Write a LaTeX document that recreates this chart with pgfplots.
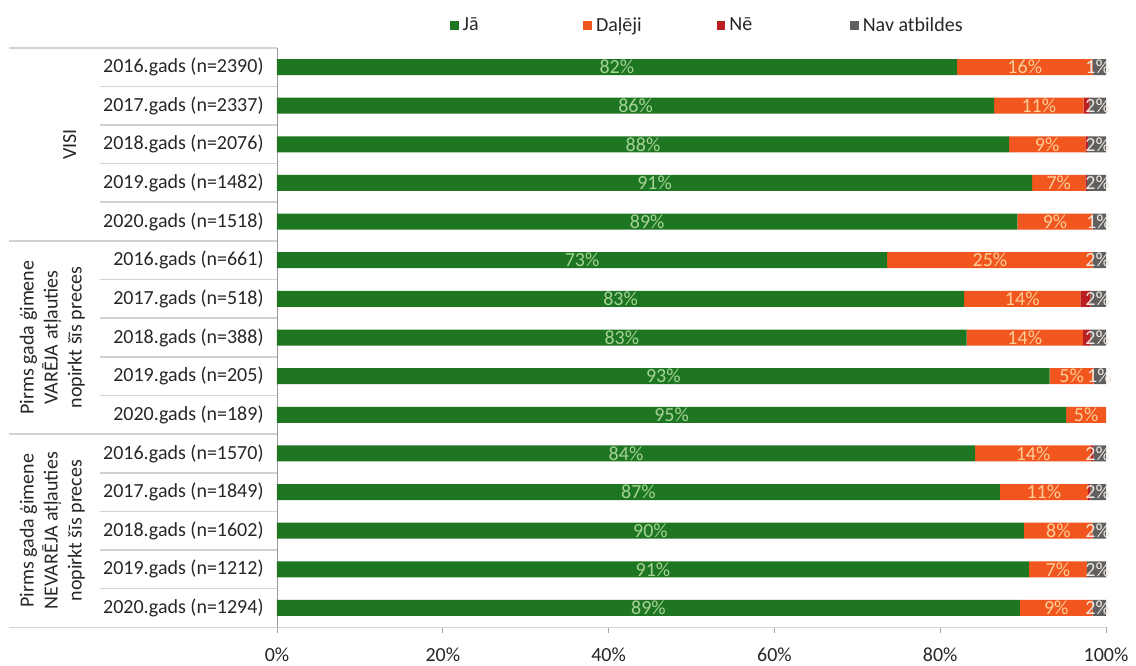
\documentclass[border=0pt]{standalone}
\usepackage{pgfplots}
\pgfplotsset{compat=1.18}
\usepackage{pgfplotstable}
\usepackage{fontspec}
\setmainfont{Carlito}
\definecolor{jagreen}{RGB}{30,118,34}
\definecolor{dorange}{RGB}{240,86,30}
\definecolor{nered}{RGB}{185,30,35}
\definecolor{navgray}{RGB}{95,95,95}
\definecolor{greenlab}{RGB}{165,210,150}
\definecolor{orlab}{RGB}{255,205,150}
\definecolor{graylab}{RGB}{240,232,222}
\definecolor{sepgray}{RGB}{210,210,210}

\pgfplotstableread{
row J D N V
0 82.0 16.4 0.0 1.6
1 86.5 10.8 0.7 2.0
2 88.3 9.2 0.3 2.2
3 91.1 6.4 0.2 2.3
4 89.3 9.1 0.0 1.6
5 73.6 24.8 0.0 1.6
6 82.9 14.0 1.2 1.9
7 83.2 14.0 0.9 1.9
8 93.2 5.3 0.0 1.5
9 95.2 4.8 0.0 0.0
10 84.2 14.0 0.3 1.5
11 87.2 10.6 0.3 1.9
12 90.1 8.3 0.0 1.6
13 90.7 7.0 0.0 2.3
14 89.6 8.8 0.0 1.6
}\data

\pgfplotstableread{
x y l
41.0 0 82\%
43.25 1 86\%
44.15 2 88\%
45.55 3 91\%
44.65 4 89\%
36.8 5 73\%
41.45 6 83\%
41.6 7 83\%
46.6 8 93\%
47.6 9 95\%
42.1 10 84\%
43.6 11 87\%
45.05 12 90\%
45.35 13 91\%
44.8 14 89\%
}\glab

\pgfplotstableread{
x y l
90.2 0 16\%
91.9 1 11\%
92.9 2 9\%
94.3 3 7\%
93.85 4 9\%
86.0 5 25\%
89.9 6 14\%
90.2 7 14\%
95.85 8 5\%
97.6 9 5\%
91.2 10 14\%
92.5 11 11\%
94.25 12 8\%
94.2 13 7\%
94.0 14 9\%
}\olab

\pgfplotstableread{
x y l
99.0 0 1\%
99.0 1 2\%
99.0 2 2\%
99.0 3 2\%
99.1 4 1\%
99.0 5 2\%
99.0 6 2\%
99.0 7 2\%
99.2 8 1\%
99.0 10 2\%
99.0 11 2\%
99.0 12 2\%
99.0 13 2\%
99.0 14 2\%
}\vlab

\begin{document}
\begin{tikzpicture}[font=\fontsize{10}{12}\selectfont]
\pgfplotsset{
  common/.style={
    scale only axis, width=414.5pt, height=289.8pt,
    xmin=0, xmax=100, ymin=-0.5, ymax=14.5,
    enlargelimits=false, y dir=reverse,
  }
}
\begin{axis}[common, name=main,
  xbar stacked, bar width=8pt,
  axis x line*=bottom, axis y line*=left,
  x axis line style={draw=sepgray, -},
  y axis line style={draw=black!40, -},
  xtick={0,20,40,60,80,100},
  xticklabels={0\%,20\%,40\%,60\%,80\%,100\%},
  xtick style={draw=black!35, thin},
  tick align=outside, major tick length=3pt,
  xticklabel style={inner sep=0pt, yshift=-7pt, text=black!85},
  ytick={0,...,14},
  yticklabels={2016.gads (n=2390),2017.gads (n=2337),2018.gads (n=2076),2019.gads (n=1482),2020.gads (n=1518),2016.gads (n=661),2017.gads (n=518),2018.gads (n=388),2019.gads (n=205),2020.gads (n=189),2016.gads (n=1570),2017.gads (n=1849),2018.gads (n=1602),2019.gads (n=1212),2020.gads (n=1294)},
  ytick style={draw=none},
  yticklabel style={inner sep=0pt, xshift=-3.5pt, text=black!85},
  clip=false,
  legend columns=4,
  legend style={draw=none, fill=none, at={(0.208,1)}, anchor=west, yshift=11pt,
    inner sep=0pt, column sep=0pt,
    nodes={text width=58.3pt, align=flush left, text=black!85}},
  legend image code/.code={\fill[#1] (0pt,-2.2pt) rectangle (4.4pt,2.2pt);},
]
\addplot[fill=jagreen, draw=none] table[x=J,y=row]{\data};
\addplot[fill=dorange, draw=none] table[x=D,y=row]{\data};
\addplot[fill=nered, draw=none] table[x=N,y=row]{\data};
\addplot[fill=navgray, draw=none] table[x=V,y=row]{\data};
\legend{Jā,Daļēji,Nē,Nav atbildes}
\pgfplotsinvokeforeach{0.5,1.5,2.5,3.5,5.5,6.5,7.5,8.5,10.5,11.5,12.5,13.5}{
  \draw[sepgray, line width=0.8pt] (axis cs:-21.3,#1) -- (axis cs:0,#1);
}
\pgfplotsinvokeforeach{-0.5,4.5,9.5,14.5}{
  \draw[sepgray, line width=0.8pt] (axis cs:-32.3,#1) -- (axis cs:0,#1);
}
\node[rotate=90, text=black!85] at (axis cs:-25.0,2) {VISI};
\node[rotate=90, align=center, text=black!85] at (axis cs:-27.1,7) {Pirms gada ģimene\\VARĒJA atļauties\\nopirkt šīs preces};
\node[rotate=90, align=center, text=black!85] at (axis cs:-27.1,12) {Pirms gada ģimene\\NEVARĒJA atļauties\\nopirkt šīs preces};
\end{axis}
\begin{axis}[common, hide axis, clip=false,
  nodes near coords, point meta=explicit symbolic,
  nodes near coords align=center,
  every node near coord/.append style={anchor=center, inner sep=0pt, font=\fontsize{10}{12}\selectfont},
]
\addplot[draw=none, mark=none, every node near coord/.append style={text=greenlab}] table[x=x,y=y,meta=l]{\glab};
\addplot[draw=none, mark=none, every node near coord/.append style={text=orlab}] table[x=x,y=y,meta=l]{\olab};
\addplot[draw=none, mark=none, every node near coord/.append style={text=graylab}] table[x=x,y=y,meta=l]{\vlab};
\end{axis}
\path ([xshift=-138.5pt,yshift=-18.85pt]main.south west) rectangle ([xshift=15pt,yshift=23.85pt]main.north east);
\end{tikzpicture}
\end{document}
